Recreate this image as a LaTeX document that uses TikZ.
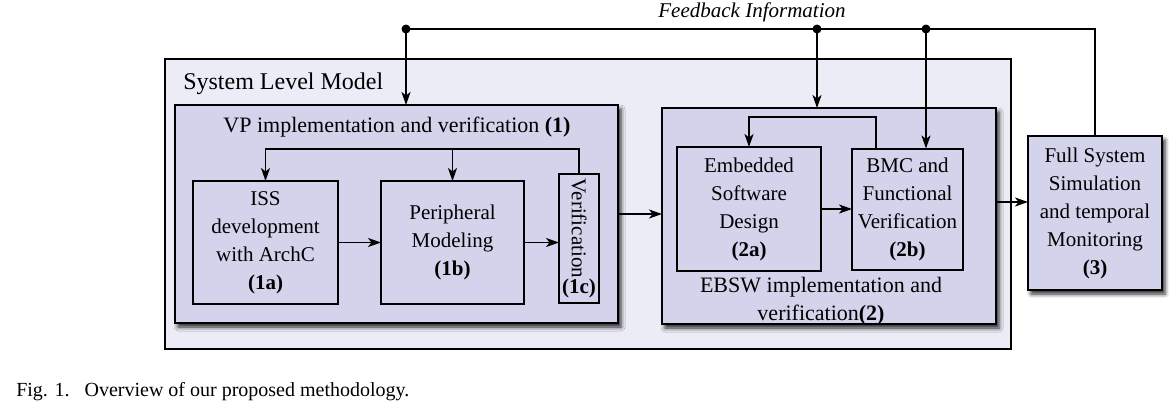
\documentclass[tikz,border=0pt]{standalone}
\usepackage{fontspec}
\setmainfont{Liberation Serif}
\usepackage{graphicx}
\usepackage{tikz}
\usetikzlibrary{arrows.meta, positioning, shadows.blur}
\usepackage{xcolor}
\definecolor{sysbg}{RGB}{236,236,247}
\definecolor{boxfill}{RGB}{211,211,236}
\newcommand{\bodyfont}{\fontsize{21}{28}\selectfont}
\newcommand{\labelfont}{\fontsize{22}{28}\selectfont}

\begin{document}
\begin{tikzpicture}[x=1pt, y=1pt, >={Stealth[length=13pt, width=9pt, inset=3.5pt]}, line width=1.9pt,
  blk/.style={rectangle, draw, fill=#1, line width=2pt, inner sep=2pt, outer sep=0pt, align=center, font=\bodyfont},
  blk/.default=boxfill,
  grp/.style={blk, blur shadow={shadow xshift=3pt, shadow yshift=-4pt, shadow blur radius=4pt, shadow opacity=85}}]
  \useasboundingbox (0,0) rectangle (1174,-410);
  % system level model
  \node[blk=sysbg, minimum width=846pt, minimum height=290pt] (slm) at (588,-204) {};
  \node[anchor=base west, font=\fontsize{24}{28}\selectfont] (slmlbl) at (179,-89) {System Level Model};
  % VP part
  \node[grp, minimum width=443pt, minimum height=218pt] (vp) at (396.5,-214) {};
  \node[anchor=base, font=\labelfont] (vplbl) at (397,-132) {VP implementation and verification \textbf{(1)}};
  \node[blk, minimum width=145pt, minimum height=123pt] (iss) at (265.5,-242.5) {ISS\\development\\with ArchC\\\textbf{(1a)}};
  \node[blk, minimum width=143pt, minimum height=123pt, right=43pt of iss] (periph) {Peripheral\\Modeling\\\textbf{(1b)}};
  \node[blk, minimum width=40pt, minimum height=129pt, right=35pt of periph, yshift=4pt] (verif) {\rotatebox{-90}{Verification}\\\textbf{(1c)}};
  % EBSW part
  \node[grp, minimum width=334pt, minimum height=216pt] (ebsw) at (829,-216) {};
  \node[font=\labelfont, align=center] (ebswlbl) at (821,-301) {EBSW implementation and\\verification\textbf{(2)}};
  \node[blk, minimum width=144pt, minimum height=124pt] (esd) at (749,-209) {Embedded\\Software\\Design\\\textbf{(2a)}};
  \node[blk, minimum width=111pt, minimum height=121pt, right=31pt of esd] (bmc) {BMC and\\Functional\\Verification\\\textbf{(2b)}};
  % full system simulation
  \node[grp, minimum width=134pt, minimum height=154pt, right=32pt of ebsw, yshift=3pt] (fss) {Full System\\Simulation\\and temporal\\Monitoring\\\textbf{(3)}};
  % feedback
  \coordinate (fb1) at (406,-29);
  \coordinate (fb2) at (817,-29);
  \coordinate (fb3) at (926,-29);
  \node[font=\fontsize{21}{24}\selectfont\itshape, anchor=base] (fblbl) at (752,-17) {Feedback Information};
  \draw (fss.north) |- (fb1);
  \draw[->] (fb1) -- (fb1 |- vp.north);
  \draw[->] (fb2) -- (fb2 |- ebsw.north);
  \draw[->] (fb3) -- (fb3 |- bmc.north);
  \fill (fb1) circle (4.5pt) (fb2) circle (4.5pt) (fb3) circle (4.5pt);
  % inner loops
  \coordinate (vploop) at (0,-149);
  \draw[->] (verif.north) -- (verif.north |- vploop) -| (iss.north);
  \draw[->] (periph.north |- vploop) -- (periph.north);
  \coordinate (ebloop) at (876,-117);
  \draw[->] (ebloop |- bmc.north) -- (ebloop) -| (esd.north);
  % flow
  \draw[->] (iss) -- (periph);
  \draw[->] (periph.east) -- (periph.east -| verif.west);
  \draw[->] (vp.east) -- (vp.east -| ebsw.west);
  \draw[->] (esd) -- (bmc);
  \draw[->] ([yshift=14pt]ebsw.east) -- ([yshift=11pt]fss.west);
  % caption
  \node[anchor=base west, font=\fontsize{20}{24}\selectfont] (cap) at (12,-396) {Fig. 1.\enspace\ Overview of our proposed methodology.};
\end{tikzpicture}
\end{document}
